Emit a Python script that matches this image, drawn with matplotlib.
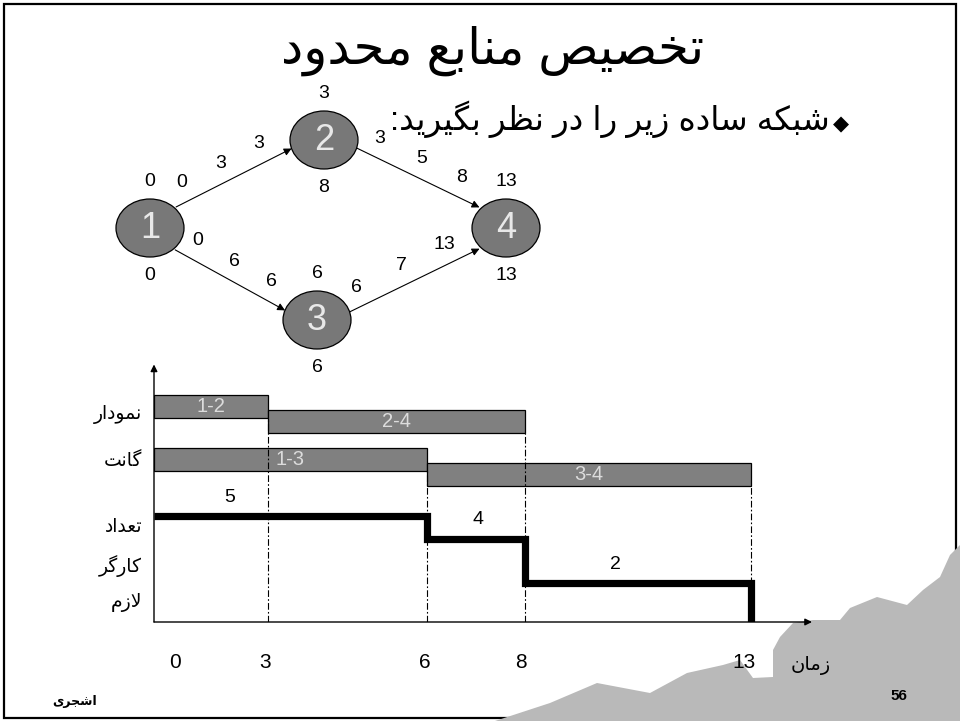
import numpy as np
import matplotlib
matplotlib.use("Agg")
import matplotlib.pyplot as plt
from matplotlib.patches import Ellipse, Polygon, Rectangle

plt.rcParams['font.family'] = ['Liberation Sans', 'DejaVu Sans']

# ---- data ----
activities = ['1-2', '2-4', '1-3', '3-4']
act_from = [1, 2, 1, 3]
act_to = [2, 4, 3, 4]
act_start = [0, 3, 0, 6]
act_duration = [3, 5, 6, 7]
act_finish = [3, 8, 6, 13]

nodes = [1, 2, 3, 4]
node_early = [0, 3, 6, 13]
node_late = [0, 8, 6, 13]

profile_t = [0, 6, 8, 13]
profile_workers = [5, 4, 2, 0]

time_ticks = [0, 3, 6, 8, 13]

title = 'تخصیص منابع محدود'
bullet = 'شبکه ساده زیر را در نظر بگیرید:'
left_labels = ['نمودار', 'گانت', 'تعداد', 'کارگر', 'لازم']
time_word = 'زمان'
author = 'اشجری'
page_no = '56'

# ---- simple persian shaping (presentation forms, visual order) ----
FORMS = {
    'ا': ('\uFE8D', '\uFE8E', None, None),
    'ب': ('\uFE8F', '\uFE90', '\uFE91', '\uFE92'),
    'ت': ('\uFE95', '\uFE96', '\uFE97', '\uFE98'),
    'ج': ('\uFE9D', '\uFE9E', '\uFE9F', '\uFEA0'),
    'ح': ('\uFEA1', '\uFEA2', '\uFEA3', '\uFEA4'),
    'خ': ('\uFEA5', '\uFEA6', '\uFEA7', '\uFEA8'),
    'د': ('\uFEA9', '\uFEAA', None, None),
    'ر': ('\uFEAD', '\uFEAE', None, None),
    'ز': ('\uFEAF', '\uFEB0', None, None),
    'س': ('\uFEB1', '\uFEB2', '\uFEB3', '\uFEB4'),
    'ش': ('\uFEB5', '\uFEB6', '\uFEB7', '\uFEB8'),
    'ص': ('\uFEB9', '\uFEBA', '\uFEBB', '\uFEBC'),
    'ظ': ('\uFEC5', '\uFEC6', '\uFEC7', '\uFEC8'),
    'ع': ('\uFEC9', '\uFECA', '\uFECB', '\uFECC'),
    'ل': ('\uFEDD', '\uFEDE', '\uFEDF', '\uFEE0'),
    'م': ('\uFEE1', '\uFEE2', '\uFEE3', '\uFEE4'),
    'ن': ('\uFEE5', '\uFEE6', '\uFEE7', '\uFEE8'),
    'ه': ('\uFEE9', '\uFEEA', '\uFEEB', '\uFEEC'),
    'و': ('\uFEED', '\uFEEE', None, None),
    'ی': ('\uFBFC', '\uFBFD', '\uFBFE', '\uFBFF'),
    'ک': ('\uFB8E', '\uFB8F', '\uFB90', '\uFB91'),
    'گ': ('\uFB92', '\uFB93', '\uFB94', '\uFB95'),
}


def fa(text):
    text = text.replace('ي', 'ی').replace('ك', 'ک')
    chars = list(text)
    out = []
    i = 0
    while i < len(chars):
        c = chars[i]
        if c not in FORMS:
            out.append(c)
            i += 1
            continue
        prev = chars[i - 1] if i > 0 else None
        join_prev = prev in FORMS and FORMS[prev][2] is not None
        if c == 'ل' and i + 1 < len(chars) and chars[i + 1] == 'ا':
            out.append('\uFEFC' if join_prev else '\uFEFB')
            i += 2
            continue
        nxt = chars[i + 1] if i + 1 < len(chars) else None
        join_next = FORMS[c][2] is not None and nxt in FORMS
        iso, fin, ini, med = FORMS[c]
        if join_prev and join_next:
            out.append(med)
        elif join_prev:
            out.append(fin)
        elif join_next:
            out.append(ini)
        else:
            out.append(iso)
        i += 1
    return ''.join(reversed(out))


fig = plt.figure(figsize=(9.6, 7.21), dpi=100)

# background layer in pixel units
bg = fig.add_axes([0, 0, 1, 1], zorder=0)
bg.set_xlim(0, 960)
bg.set_ylim(721, 0)
bg.axis('off')

bg.add_patch(Rectangle((4, 4), 952, 714, fill=False, lw=1.6, ec='black'))

rock = [(495, 721), (550, 703), (597, 683), (650, 693), (687, 673), (723, 665),
        (740, 660), (753, 678), (773, 677), (773, 650), (780, 637), (793, 623),
        (813, 620), (840, 620), (850, 608), (877, 597), (907, 605), (923, 590),
        (940, 577), (950, 555), (960, 545), (960, 721)]
bg.add_patch(Polygon(rock, closed=True, fc='#b9b9b9', ec='none'))

bg.text(493, 64, fa(title), fontsize=36, ha='center', va='baseline')
bg.text(830, 130, fa(bullet), fontsize=23.5, ha='right', va='baseline')
bg.text(841, 124, '\u25C6', fontsize=15, ha='center', va='center',
        family='DejaVu Sans')

# ---- network ----
node_xy = {1: (150, 228), 2: (324, 140), 3: (317, 320), 4: (506, 228)}
rx, ry = 34, 29
for n, es, ls in zip(nodes, node_early, node_late):
    x, y = node_xy[n]
    bg.add_patch(Ellipse((x, y), 2 * rx, 2 * ry, fc='#787878', ec='black',
                         lw=0.9, zorder=3))
    bg.text(x, y + 1, str(n), fontsize=26, color='#e8e8e8', ha='center',
            va='center', zorder=4)
    bg.text(x, y - 47, str(es), fontsize=14, ha='center', va='center')
    bg.text(x, y + 48, str(ls), fontsize=14, ha='center', va='center')

for a, b, s, d, f in zip(act_from, act_to, act_start, act_duration, act_finish):
    p0 = np.array(node_xy[a], float)
    p1 = np.array(node_xy[b], float)
    u = (p1 - p0) / np.linalg.norm(p1 - p0)
    t = 1.0 / np.sqrt((u[0] / rx) ** 2 + (u[1] / ry) ** 2)
    up = np.array([u[1], -u[0]])
    if up[1] > 0:
        up = -up
    side = 1 if min(p0[1], p1[1]) < 200 else -1
    tail = p0 + u * t + up * 7 * side
    head = p1 - u * t + up * 7 * side
    bg.annotate('', xy=head, xytext=tail,
                arrowprops=dict(arrowstyle='-|>', lw=0.8, color='black',
                                mutation_scale=11, shrinkA=0, shrinkB=0))
    for frac, val in zip([0.12, 0.46, 0.79], [s, d, f]):
        q = tail + (head - tail) * frac + up * 19
        bg.text(q[0], q[1], str(val), fontsize=14, ha='center', va='center')

# left labels / time word / footer
for lab, yb in zip(left_labels, [419, 466, 532, 572, 607]):
    bg.text(142, yb, fa(lab), fontsize=13.5, ha='right', va='baseline')
bg.text(811, 670, fa(time_word), fontsize=14, ha='center', va='baseline')
bg.text(75, 705, fa(author), fontsize=9, fontweight='bold', ha='center',
        va='baseline')
bg.text(899, 700, page_no, fontsize=11, fontweight='bold', ha='center',
        va='baseline')

# ---- gantt + resource chart ----
ax = fig.add_axes([154 / 960, 1 - 622 / 721, (812 - 154) / 960, (622 - 367) / 721],
                  zorder=1)
ax.patch.set_alpha(0)

T_ref = [0, 3, 6, 8, 13, 15]
T_pos = [0, 114, 273, 371, 597, 687]
ax.set_xscale('function', functions=(lambda v: np.interp(v, T_ref, T_pos),
                                     lambda p: np.interp(p, T_pos, T_ref)))
Y_ref = [0, 2, 4, 5, 13]
Y_pos = [0, 38.5, 83, 106.3, 276.2]
ax.set_yscale('function', functions=(lambda v: np.interp(v, Y_ref, Y_pos),
                                     lambda p: np.interp(p, Y_pos, Y_ref)))
ax.set_xlim(0, 14.36)
ax.set_ylim(0, 12.0)
for sp in ax.spines.values():
    sp.set_visible(False)
ax.set_xticks([])
ax.set_yticks([])
ax.minorticks_off()

row_y = [10.15, 9.43, 7.66, 6.93]
bar_h = 1.07
ax.barh(row_y, np.array(act_finish) - np.array(act_start), left=act_start,
        height=bar_h, color='#808080', edgecolor='black', lw=0.9, zorder=2)
for lab, s, f, y in zip(activities, act_start, act_finish, row_y):
    mid = np.interp((np.interp(s, T_ref, T_pos) + np.interp(f, T_ref, T_pos)) / 2,
                    T_pos, T_ref)
    ax.text(mid, y, lab, fontsize=14.5, color='#dcdcdc', ha='center',
            va='center', zorder=3)

# dash-dot guides from bar ends down to time axis
guide_t = [3, 6, 8, 13]
guide_top = [row_y[0] - bar_h / 2, row_y[2] - bar_h / 2, row_y[1] - bar_h / 2,
             row_y[3] - bar_h / 2]
for gt, gy in zip(guide_t, guide_top):
    ax.plot([gt, gt], [0, gy], color='black', lw=0.8,
            ls=(0, (6, 2, 1.5, 2)), zorder=4)

ax.step(profile_t, profile_workers, where='post', color='black', lw=5.2,
        solid_joinstyle='miter', solid_capstyle='butt', zorder=5)
for lt, w in zip([2, 7.05, 10], profile_workers[:3]):
    ax.text(lt, w + 0.85, str(w), fontsize=14, ha='center', va='center')

# axes with arrows
ax.annotate('', xy=(1, 0), xytext=(0, 0), xycoords='axes fraction',
            arrowprops=dict(arrowstyle='-|>', lw=1.0, color='black',
                            mutation_scale=10, shrinkA=0, shrinkB=0))
ax.annotate('', xy=(0, 1.01), xytext=(0, 0), xycoords='axes fraction',
            arrowprops=dict(arrowstyle='-|>', lw=1.0, color='black',
                            mutation_scale=10, shrinkA=0, shrinkB=0))

tick_dx = [21, -3, -2, -4, -7]
for tt, dx in zip(time_ticks, tick_dx):
    ax.annotate(str(tt), xy=(tt, 0), xycoords=('data', 'axes fraction'),
                xytext=(dx * 0.72, -40 * 0.72), textcoords='offset points',
                fontsize=15, ha='center', va='center', annotation_clip=False)

fig.savefig('out.png', dpi=100)
